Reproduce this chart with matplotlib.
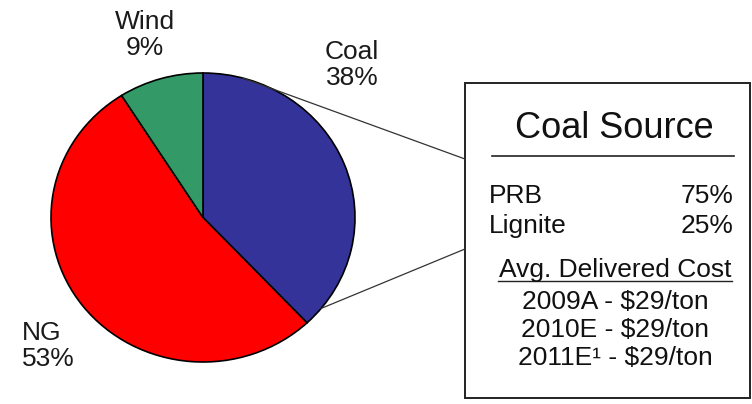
import matplotlib
matplotlib.use('Agg')
import numpy as np
import matplotlib.pyplot as plt
from matplotlib.patches import Rectangle, ConnectionPatch

plt.rcParams['font.family'] = ['Liberation Sans', 'DejaVu Sans']

sources = ['Coal', 'NG', 'Wind']
shares = [38, 53, 9]
colors = ['#333399', '#FF0000', '#339966']

coal_types = ['PRB', 'Lignite']
coal_pct = ['75%', '25%']
cost_rows = ['2009A - \\$29/ton', '2010E - \\$29/ton', '2011E\u00b9 - \\$29/ton']

W, H = 752, 404
fig = plt.figure(figsize=(W / 100, H / 100), dpi=100)

# overlay axes in pixel coordinates (y down)
ov = fig.add_axes([0, 0, 1, 1])
ov.set_xlim(0, W)
ov.set_ylim(H, 0)
ov.axis('off')

# pie axes placed on pixel box
px0, px1, py0, py1 = 51, 355, 73, 362
pa = fig.add_axes([px0 / W, 1 - py1 / H, (px1 - px0) / W, (py1 - py0) / H])
pa.pie(shares, colors=colors, startangle=90, counterclock=False, radius=1,
       wedgeprops=dict(edgecolor='black', linewidth=1.2))
pa.set_aspect('auto')
pa.set_xlim(-1, 1)
pa.set_ylim(-1, 1)
pa.axis('off')

fs = 19
# labels
lab_pos = {'Coal': (352, 65, 'center'), 'NG': (22, 346, 'left'), 'Wind': (145, 35, 'center')}
for s, v in zip(sources, shares):
    x, y, ha = lab_pos[s]
    ov.text(x, y, '%s\n%d%%' % (s, v), ha=ha, va='center', fontsize=fs,
            color='#1a1a1a', linespacing=1.1)

# connector lines from coal wedge to box
for ang, target in [(75, (465, 159)), (-39, (465, 249))]:
    a = np.deg2rad(ang)
    con = ConnectionPatch(xyA=(np.cos(a), np.sin(a)), coordsA=pa.transData,
                          xyB=target, coordsB=ov.transData,
                          color='#333333', linewidth=0.9)
    fig.add_artist(con)

# coal source box
ov.add_patch(Rectangle((465, 83), 285, 315, fill=False, edgecolor='#222222', linewidth=1.4))
ov.text(614, 128, 'Coal Source', ha='center', va='center', fontsize=26, color='#111111')
ov.plot([492, 734], [156, 156], color='#222222', linewidth=1.2)

for i, (t, p) in enumerate(zip(coal_types, coal_pct)):
    y = 196 + i * 30
    ov.text(489, y, t, ha='left', va='center', fontsize=fs, color='#111111')
    ov.text(734, y, p, ha='right', va='center', fontsize=fs, color='#111111')

ov.text(615, 270, 'Avg. Delivered Cost', ha='center', va='center', fontsize=fs, color='#111111')
ov.plot([498, 732], [281, 281], color='#222222', linewidth=1.0)

for i, row in enumerate(cost_rows):
    ov.text(615, 302 + i * 28, row, ha='center', va='center', fontsize=fs, color='#111111')

fig.savefig('out.png', dpi=100)
